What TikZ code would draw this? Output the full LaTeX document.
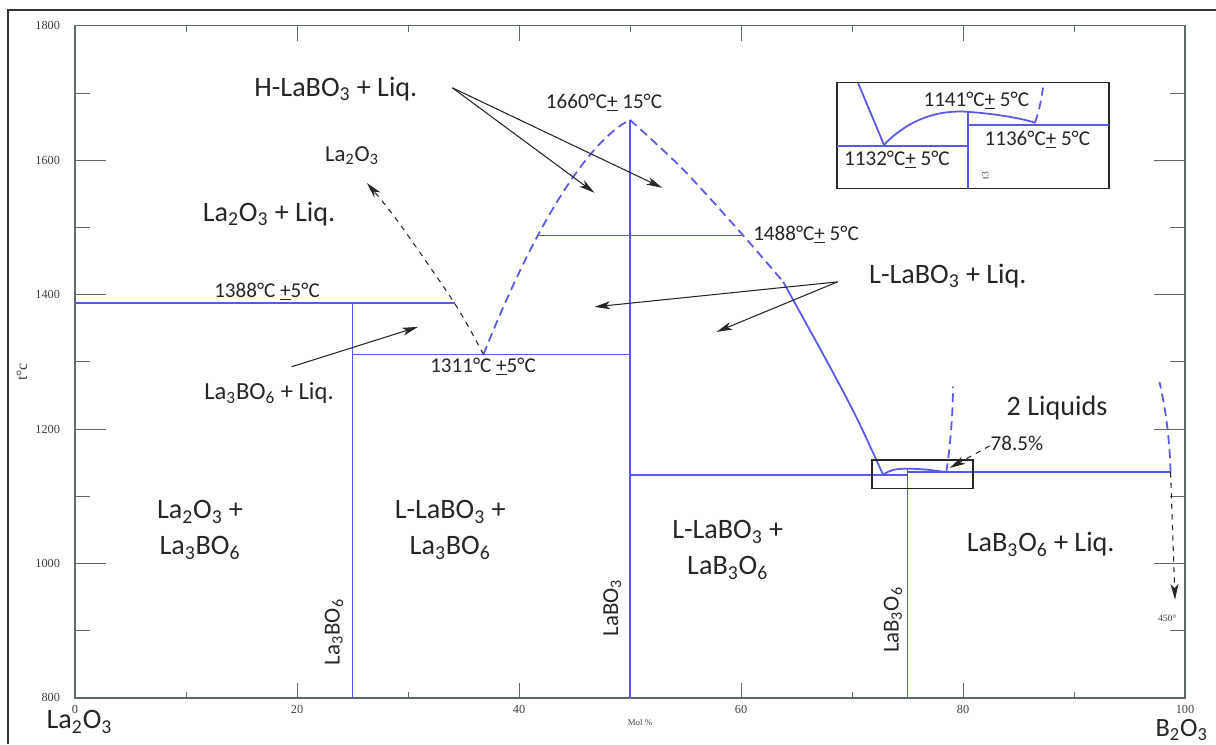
\documentclass[tikz,border=0pt]{standalone}
\usepackage{fontspec}
\setmainfont{Carlito}
\newfontfamily\tickfont{Liberation Serif}
\usetikzlibrary{arrows.meta}

\definecolor{phaseblue}{RGB}{88,88,235}
\definecolor{axisgray}{RGB}{95,105,105}
\newcommand{\ssub}[1]{\textsubscript{#1}}
\newcommand{\plmi}{\underline{+}}

\tikzset{
  phase/.style={phaseblue, line width=1pt},
  phasedash/.style={phase, dash pattern=on 5pt off 3pt},
  pointer/.style={black!85, line width=0.6pt, -{Stealth[length=9pt,width=4.5pt,inset=2.5pt]}},
  region/.style={font=\fontsize{16}{20.4}\selectfont, text=black!85, align=center},
  temp/.style={font=\fontsize{12}{14}\selectfont, text=black!85},
  ticklab/.style={font=\tickfont\fontsize{7}{8}\selectfont, text=black!75},
}

\begin{document}
\begin{tikzpicture}
  \fill[white] (0,0) rectangle (24.32,-14.88);
  \useasboundingbox (0,0) rectangle (24.32,-14.88);
  % outer frame
  \draw[black!80, line width=0.7pt] (0.16,-14.88) -- (0.16,-0.2) -- (24.32,-0.2);

  \begin{scope}[shift={(1.5,-24.712)}, x=0.222cm, y=0.01344cm]
    % axes and ticks
    \draw[axisgray, line width=0.8pt] (0,800) rectangle (100,1800);
    \foreach \m in {10,30,...,90}
      \draw[axisgray] (\m,800) -- ++(0pt,3.4pt) (\m,1800) -- ++(0pt,-3.4pt);
    \foreach \m in {20,40,60,80}
      \draw[axisgray] (\m,800) -- ++(0pt,8.5pt) (\m,1800) -- ++(0pt,-8.5pt);
    \foreach \t in {900,1100,...,1700}
      \draw[axisgray] (0,\t) -- ++(8.5pt,0pt) (100,\t) -- ++(-8.5pt,0pt);
    \foreach \t in {1000,1200,...,1600}
      \draw[axisgray] (0,\t) -- ++(17.6pt,0pt) (100,\t) -- ++(-17.6pt,0pt);
    \foreach \t in {800,1000,...,1800}
      \node[ticklab, anchor=east, xshift=-5pt] at (0,\t) {\t};
    \foreach \m in {0,20,...,100}
      \node[ticklab, anchor=north, yshift=-3pt, inner sep=1pt] at (\m,800) {\m};
    \node[ticklab, rotate=90, font=\tickfont\fontsize{9}{10}\selectfont] (tlab) at (-4.77,1285) {t°c};
    \node[ticklab, font=\tickfont\fontsize{5}{6}\selectfont] (mollab) at (50.9,764) {Mol \%};
    \node[region, anchor=base, inner sep=0pt] (laox) at (0.4,754) {La\ssub{2}O\ssub{3}};
    \node[region, anchor=base, inner sep=0pt, font=\fontsize{15}{18}\selectfont] (boox) at (99.7,742) {B\ssub{2}O\ssub{3}};

    % phase boundaries
    \draw[phase] (0,1387) -- (34.2,1387);
    \draw[phase] (25,1387) -- (25,800);
    \draw[phase] (25,1311) -- (50,1311);
    \draw[phase] (41.6,1488) -- (60.2,1488);
    \draw[phase] (50,1660) -- (50,800);
    \draw[phase] (50,1132) -- (75,1132);
    \draw[phase] (75,1141) -- (75,800);
    \draw[phase] (75,1136) -- (98.7,1136);
    \draw[phasedash] (36.8,1311) .. controls (41.7,1514) and (46.4,1630) .. (50,1660);
    \draw[phasedash] plot[smooth] coordinates {(50,1660) (54.8,1586) (60.2,1488) (63.8,1419)};
    \draw[phase] plot[smooth] coordinates {(63.8,1419) (68.0,1293) (70.5,1214) (72.8,1132)};
    \draw[phase] (72.8,1132) .. controls (73.5,1140) and (74,1141) .. (75,1141)
      .. controls (76.5,1141) and (77.5,1138) .. (78.5,1136);
    \draw[phasedash] (78.5,1136) .. controls (78.9,1180) and (79.1,1230) .. (79.1,1263);
    \draw[phasedash] (98.7,1136) .. controls (98.6,1190) and (98.2,1235) .. (97.7,1270);
    \draw[pointer, dashed] plot[smooth] coordinates {(36.8,1311) (34.2,1387) (29.0,1511) (26.3,1566)};
    \draw[pointer, dashed] (98.7,1136) -- (99.1,946);

    % zoom window
    \draw[black!85, line width=0.6pt] (71.8,1111) rectangle (80.9,1154);

    % inset
    \draw[black!85, line width=0.7pt] (68.65,1557.4) rectangle (93.15,1715.2);
    \draw[phase] (70.54,1715.2) -- (72.88,1622.9);
    \draw[phase] (68.65,1621.4) -- (80.45,1621.4);
    \draw[phase] (80.45,1672) -- (80.45,1557.4);
    \draw[phase] (80.45,1652.7) -- (93.15,1652.7);
    \draw[phase] (72.88,1622.9) .. controls (75.23,1663) and (77.93,1675) .. (80.45,1672)
      .. controls (82.88,1669) and (85.14,1663) .. (86.49,1655.7);
    \draw[phasedash] (86.49,1655.7) .. controls (86.9,1675) and (87.1,1695) .. (87.21,1708);
    \node[temp] (tmax) at (81.2,1688.4) {1141°C\plmi{} 5°C};
    \node[temp] (tmono) at (86.7,1630.4) {1136°C\plmi{} 5°C};
    \node[temp] (teut) at (74.05,1600.6) {1132°C\plmi{} 5°C};
    \node[ticklab, rotate=90, font=\tickfont\fontsize{5.5}{6}\selectfont] (tiny) at (82.0,1576.8) {t3};

    % labels
    \node[region] (hliq) at (23.5,1706) {H-LaBO\ssub{3} + Liq.};
    \node[temp] (tpeak) at (47.66,1685.4) {1660°C\plmi{} 15°C};
    \node[region, font=\fontsize{13}{15}\selectfont] (laone) at (24.95,1606.5) {La\ssub{2}O\ssub{3}};
    \node[region] (laliq) at (17.48,1520) {La\ssub{2}O\ssub{3} + Liq.};
    \node[temp] (tper) at (65.86,1489) {1488°C\plmi{} 5°C};
    \node[region, anchor=west] (lliq) at (70.99,1428) {L-LaBO\ssub{3} + Liq.};
    \node[temp] (tlamo) at (17.3,1404.2) {1388°C \plmi5°C};
    \node[temp] (teuone) at (36.76,1292.6) {1311°C \plmi5°C};
    \node[region, font=\fontsize{14}{16}\selectfont] (l3liq) at (17.48,1254) {La\ssub{3}BO\ssub{6} + Liq.};
    \node[region] (twoliq) at (88.47,1231.5) {2 Liquids};
    \node[temp] (frac) at (84.86,1178) {78.5\%};
    \node[region] (regA) at (11.26,1050) {La\ssub{2}O\ssub{3} +\\La\ssub{3}BO\ssub{6}};
    \node[region] (regB) at (33.8,1050) {L-LaBO\ssub{3} +\\La\ssub{3}BO\ssub{6}};
    \node[region] (regC) at (58.8,1020) {L-LaBO\ssub{3} +\\LaB\ssub{3}O\ssub{6}};
    \node[region] (regD) at (87.0,1028) {LaB\ssub{3}O\ssub{6} + Liq.};
    \node[region, font=\fontsize{13}{15}\selectfont, rotate=90] (cmpA) at (23.33,898) {La\ssub{3}BO\ssub{6}};
    \node[region, font=\fontsize{13}{15}\selectfont, rotate=90] (cmpB) at (48.4,934) {LaBO\ssub{3}};
    \node[region, font=\fontsize{13}{15}\selectfont, rotate=90] (cmpC) at (73.7,916) {LaB\ssub{3}O\ssub{6}};
    \node[ticklab, font=\tickfont\fontsize{5.5}{6}\selectfont] (glass) at (98.4,919) {450°};

    % pointers
    \coordinate (hTail) at (34.0,1707.7);
    \coordinate (hTipA) at (46.8,1551.5);
    \coordinate (hTipB) at (52.9,1559);
    \coordinate (lTail) at (68.7,1419);
    \coordinate (lTipA) at (46.8,1381.8);
    \coordinate (lTipB) at (57.8,1344.6);
    \coordinate (sTail) at (19.5,1292.6);
    \coordinate (sTip) at (30.9,1352);
    \coordinate (fTail) at (82.4,1175);
    \coordinate (fTip) at (78.8,1142.2);
    \draw[pointer] (hTail) -- (hTipA);
    \draw[pointer] (hTail) -- (hTipB);
    \draw[pointer] (lTail) -- (lTipA);
    \draw[pointer] (lTail) -- (lTipB);
    \draw[pointer] (sTail) -- (sTip);
    \draw[pointer, dashed] (fTail) -- (fTip);
  \end{scope}
\end{tikzpicture}
\end{document}
